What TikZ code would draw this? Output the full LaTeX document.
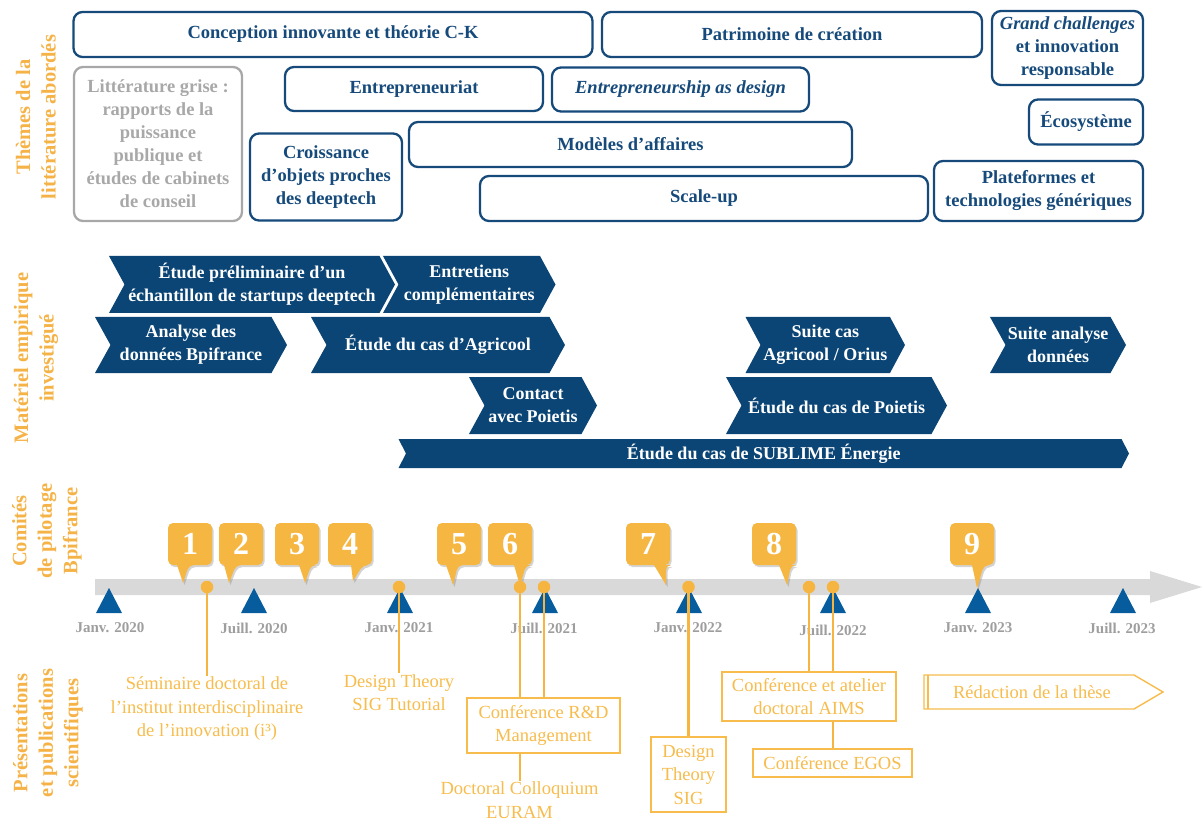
\documentclass[tikz,border=0pt]{standalone}
\usepackage{fontspec}
\setmainfont{Liberation Serif}
\usetikzlibrary{shadows}
\definecolor{navy}{HTML}{164A7B}
\definecolor{chevfill}{HTML}{0B4576}
\definecolor{trifill}{HTML}{075C9E}
\definecolor{sideor}{HTML}{F5B347}
\definecolor{bubor}{HTML}{F6B642}
\definecolor{pubor}{HTML}{F7BC4C}
\definecolor{lineor}{HTML}{F5B540}
\definecolor{barg}{HTML}{D9D9D9}
\definecolor{grayt}{HTML}{A8A8A8}
\definecolor{dateg}{HTML}{9E9E9E}
\pgfdeclarelayer{back}
\pgfsetlayers{back,main}
\newcommand\chevr[7]{%
  \pgfmathsetmacro\chvA{#2+#6}\pgfmathsetmacro\chvB{#3-#6}%
  \pgfmathsetmacro\chvM{(#4+#5)/2}\pgfmathsetmacro\chvX{(#2+#3)/2}%
  \fill[chevfill] (#2,#4) -- (\chvB,#4) -- (#3,\chvM) -- (\chvB,#5) -- (#2,#5) -- (\chvA,\chvM) -- cycle;
  \node[chevtext] (#1) at (\chvX,\chvM) {#7};
}
\newcommand\bubble[6]{%
  \pgfmathsetmacro\bbR{#2+44}\pgfmathsetmacro\bbA{#3-6}\pgfmathsetmacro\bbB{#3+6}\pgfmathsetmacro\bbC{#2+22}%
  \fill[bubor, drop shadow={shadow xshift=1.5pt, shadow yshift=-2pt, opacity=.35}] (\bbA,565) [rounded corners=5pt] -- (#2,565) -- (#2,523) -- (\bbR,523) -- (\bbR,565) -- (\bbB,565) [sharp corners] -- (#4,#5) -- cycle;
  \node[bubnum] (#1) at (\bbC,544) {#6};
}
\begin{document}
\begin{tikzpicture}[x=1pt,y=-1pt,
  topbox/.style={draw=navy, line width=2.3pt, rounded corners=9pt, text=navy, font=\bfseries\fontsize{18.5}{23}\selectfont, align=center, inner sep=0pt},
  graybox/.style={topbox, draw=grayt, text=grayt},
  chevtext/.style={text=white, font=\bfseries\fontsize{18}{23}\selectfont, align=center, inner sep=0pt},
  sidelabel/.style={rotate=90, text=sideor, font=\bfseries\fontsize{20.5}{25.5}\selectfont, align=center},
  datelab/.style={text=dateg, font=\bfseries\fontsize{15}{15}\selectfont},
  pubtext/.style={text=pubor, font=\fontsize{18.5}{23.5}\selectfont, align=center, inner sep=1pt},
  pubbox/.style={pubtext, draw=pubor, line width=1.4pt, fill=white, inner sep=0pt},
  olink/.style={draw=lineor, line width=2.2pt},
  dot/.style={circle, fill=lineor, minimum size=12.5pt, inner sep=0pt},
  bubnum/.style={text=white, font=\bfseries\fontsize{32}{32}\selectfont, inner sep=0pt},
  tri/.style={fill=trifill}
]
\useasboundingbox (0,0) rectangle (1203,821);

% side labels
\node[sidelabel] (lab1) at (36,117) {Thèmes de la\\littérature abordés};
\node[sidelabel] (lab2) at (36,358) {Matériel empirique\\investigué};
\node[sidelabel] (lab3) at (47,531) {Comités\\de pilotage\\Bpifrance};
\node[sidelabel] (lab4) at (48,733) {Présentations\\et publications\\scientifiques};

% top boxes
\node[topbox, minimum width=519, minimum height=45] (ck) at (333,34.5) {Conception innovante et théorie C-K};
\node[topbox, minimum width=380, minimum height=45] (pat) at (792,34.5) {Patrimoine de création};
\node[topbox, minimum width=151, minimum height=74] (gc) at (1067.5,48) {\textit{Grand challenges}\\et innovation\\responsable};
\node[graybox, minimum width=168, minimum height=154] (lit) at (158,144) {Littérature grise :\\rapports de la\\puissance\\publique et\\études de cabinets\\de conseil};
\node[topbox, minimum width=258, minimum height=44] (ent) at (414,89) {Entrepreneuriat};
\node[topbox, minimum width=257, minimum height=44] (ead) at (680.5,89.5) {\textit{Entrepreneurship as design}};
\node[topbox, minimum width=114, minimum height=45] (eco) at (1086,122) {Écosystème};
\node[topbox, minimum width=152, minimum height=87] (cro) at (326,177) {Croissance\\d’objets proches\\des deeptech};
\node[topbox, minimum width=443, minimum height=45] (mod) at (630.5,144.5) {Modèles d’affaires};
\node[topbox, minimum width=448, minimum height=45] (scu) at (704,198.5) {Scale-up};
\node[topbox, minimum width=209, minimum height=60] (pla) at (1038.5,191) {Plateformes et\\technologies génériques};

% chevrons
\chevr{c1}{109}{395}{256}{313}{15.5}{Étude préliminaire d’un\\échantillon de startups deeptech}
\chevr{c2}{383}{555.5}{256}{313}{15.5}{Entretiens\\complémentaires}
\chevr{c3}{95}{287}{317}{373}{15.5}{Analyse des\\données Bpifrance}
\chevr{c4}{311}{565}{317}{373}{15.5}{Étude du cas d’Agricool}
\chevr{c5}{745.5}{905}{317}{373}{15}{Suite cas\\Agricool / Orius}
\chevr{c6}{990}{1126}{317}{373}{15.5}{Suite analyse\\données}
\chevr{c7}{469}{597}{377}{434}{15.5}{Contact\\avec Poietis}
\chevr{c8}{726}{947}{377}{434}{15.5}{Étude du cas de Poietis}
\chevr{c9}{398.5}{1129}{439}{468}{7.5}{Étude du cas de SUBLIME Énergie}

% bubbles
\bubble{b1}{168}{183}{183}{583}{1}
\bubble{b2}{219}{230}{229}{583}{2}
\bubble{b3}{275}{305}{305}{583}{3}
\bubble{b4}{328}{357}{353}{581}{4}
\bubble{b5}{437}{452}{453}{585}{5}
\bubble{b6}{488}{520}{520}{586}{6}
\bubble{b7}{626}{660}{666}{585}{7}
\bubble{b8}{752}{785}{787}{585}{8}
\bubble{b9}{950}{978}{977}{588}{9}

% dots
\node[dot] (d1) at (207,587) {};
\node[dot] (d2) at (399,587) {};
\node[dot] (d3) at (520,587) {};
\node[dot] (d4) at (544,587) {};
\node[dot] (d5) at (688.5,587) {};
\node[dot] (d6) at (809,587) {};
\node[dot] (d7) at (833,587) {};

% publications
\node[pubtext] (sem) at (207,709) {Séminaire doctoral de\\l’institut interdisciplinaire\\de l’innovation (i³)};
\node[pubtext] (dtt) at (399,692.5) {Design Theory\\SIG Tutorial};
\node[pubtext] (eur) at (519.5,800) {Doctoral Colloquium\\EURAM};
\node[pubbox, minimum width=153, minimum height=55] (rd) at (543.5,725.5) {Conférence R\&D\\Management};
\node[pubbox, minimum width=75, minimum height=75] (dts) at (688.5,774.5) {Design\\Theory\\SIG};
\node[pubbox, minimum width=174, minimum height=49] (aims) at (809,696.5) {Conférence et atelier\\doctoral AIMS};
\node[pubbox, minimum width=159, minimum height=28] (egos) at (832.5,763) {Conférence EGOS};
\draw[draw=pubor, line width=1.4pt] (924,675) -- (1134,675) -- (1163,692) -- (1134,709) -- (924,709) -- cycle;
\draw[draw=pubor, line width=2pt] (927.5,675) -- (927.5,709);
\node[pubtext] (red) at (1032,692) {Rédaction de la thèse};

\begin{pgfonlayer}{back}
  \fill[barg] (95,579) -- (1150,579) -- (1150,571) -- (1202,587) -- (1150,603) -- (1150,595) -- (95,595) -- cycle;
  \foreach \tx in {109,254,400,545,689,833,978,1123}
    \fill[tri] (\tx,588) -- (\tx+13,613) -- (\tx-13,613) -- cycle;
  \node[datelab] (t1) at (110,628) {Janv. 2020};
  \node[datelab] (t2) at (254,628) {Juill. 2020};
  \node[datelab] (t3) at (399,628) {Janv. 2021};
  \node[datelab] (t4) at (544,628) {Juill. 2021};
  \node[datelab] (t5) at (688,628) {Janv. 2022};
  \node[datelab] (t6) at (833,630) {Juill. 2022};
  \node[datelab] (t7) at (978,628) {Janv. 2023};
  \node[datelab] (t8) at (1122,628) {Juill. 2023};
  \draw[olink] (d1.center) -- (d1 |- sem.north);
  \draw[olink] (d2.center) -- (d2 |- dtt.north);
  \draw[olink] (d3.center) -- (d3 |- eur.north);
  \draw[olink] (d4.center) -- (d4 |- rd.north);
  \draw[olink] (d5.center) -- (d5 |- dts.north);
  \draw[olink] (d6.center) -- (d6 |- aims.north);
  \draw[olink] (d7.center) -- (d7 |- egos.north);
\end{pgfonlayer}
\end{tikzpicture}
\end{document}
